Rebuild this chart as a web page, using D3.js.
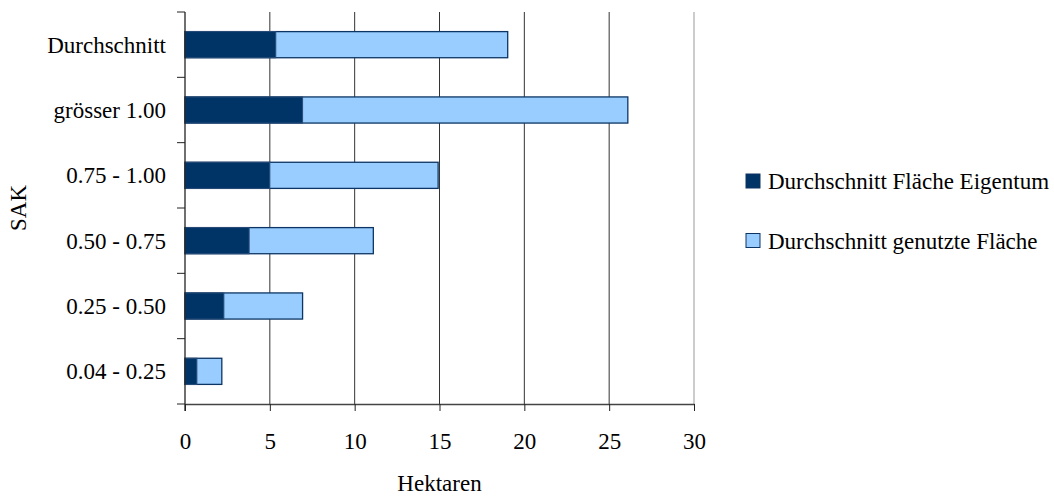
<!DOCTYPE html>
<html>
<head>
<meta charset="utf-8">
<script src="https://cdn.jsdelivr.net/npm/d3@7"></script>
<style>
  body { margin: 0; background: #fff; }
  svg text { font-family: "Liberation Serif", "Times New Roman", serif !important; fill: #000; }
</style>
</head>
<body>
<div id="chart"></div>
<script>
// Kategorien (von oben nach unten)
var categories = ["Durchschnitt", "grösser 1.00", "0.75 - 1.00", "0.50 - 0.75", "0.25 - 0.50", "0.04 - 0.25"];
var eigentum = [5.35, 6.93, 5.0, 3.78, 2.29, 0.7];
var genutzt = [19.02, 26.1, 14.92, 11.1, 6.93, 2.17];
var xTicks = [0, 5, 10, 15, 20, 25, 30];
var seriesNames = ["Durchschnitt Fläche Eigentum", "Durchschnitt genutzte Fläche"];
var colors = ["#003366", "#99ccff"];

function init() {
    var w = 1054, h = 498;
    var left = 185, right = 694, top = 12, bottom = 404;
    var fs = "23px";

    var svg = d3.select("#chart").append("svg")
        .attr("width", w)
        .attr("height", h);

    var x = d3.scaleLinear().domain([0, 30]).range([left, right]);
    var y = d3.scaleBand().domain(categories).range([top, bottom])
        .paddingInner(0.6).paddingOuter(0.3);

    // vertical gridlines
    svg.append("g").selectAll("line")
        .data(xTicks.slice(1))
        .enter().append("line")
        .attr("x1", function (d) { return x(d); })
        .attr("x2", function (d) { return x(d); })
        .attr("y1", top)
        .attr("y2", bottom)
        .attr("stroke", function (d) { return d === 30 ? "#999" : "#333"; })
        .attr("stroke-width", 1);

    var rows = categories.map(function (c, i) {
        return { cat: c, eig: eigentum[i], gen: genutzt[i] };
    });

    // light bars (total used area)
    svg.append("g").selectAll("rect")
        .data(rows)
        .enter().append("rect")
        .attr("x", x(0))
        .attr("y", function (d) { return y(d.cat); })
        .attr("width", function (d) { return x(d.gen) - x(0); })
        .attr("height", y.bandwidth())
        .attr("fill", colors[1])
        .attr("stroke", "#0d3563")
        .attr("stroke-width", 1.3);

    // dark bars (owned area)
    svg.append("g").selectAll("rect")
        .data(rows)
        .enter().append("rect")
        .attr("x", x(0))
        .attr("y", function (d) { return y(d.cat); })
        .attr("width", function (d) { return x(d.eig) - x(0); })
        .attr("height", y.bandwidth())
        .attr("fill", colors[0])
        .attr("stroke", "#2a4d78")
        .attr("stroke-width", 1);

    // x axis
    var xAxis = svg.append("g")
        .attr("transform", "translate(0," + bottom + ")")
        .call(d3.axisBottom(x).tickValues(xTicks).tickSize(7).tickPadding(22).tickSizeOuter(0));
    xAxis.attr("font-family", null).attr("font-size", null);
    xAxis.select(".domain").attr("stroke", "#444").attr("stroke-width", 1.5);
    xAxis.selectAll(".tick line").attr("stroke", "#222");
    xAxis.selectAll("text").style("font-size", fs);

    // y axis line + ticks between categories
    svg.append("line")
        .attr("x1", left).attr("x2", left)
        .attr("y1", top).attr("y2", bottom + 7)
        .attr("stroke", "#222").attr("stroke-width", 1.3);

    svg.append("g").selectAll("line")
        .data(d3.range(categories.length + 1))
        .enter().append("line")
        .attr("x1", left - 8).attr("x2", left)
        .attr("y1", function (k) { return top + k * y.step(); })
        .attr("y2", function (k) { return top + k * y.step(); })
        .attr("stroke", "#222");

    svg.append("g").selectAll("text")
        .data(categories)
        .enter().append("text")
        .attr("x", left - 19)
        .attr("y", function (d) { return y(d) + y.bandwidth() / 2; })
        .attr("dy", "0.35em")
        .attr("text-anchor", "end")
        .style("font-size", fs)
        .text(function (d) { return d; });

    // axis titles
    svg.append("text")
        .attr("x", (left + right) / 2)
        .attr("y", 491)
        .attr("text-anchor", "middle")
        .style("font-size", fs)
        .text("Hektaren");

    svg.append("text")
        .attr("transform", "translate(26," + ((top + bottom) / 2) + ") rotate(-90)")
        .attr("text-anchor", "middle")
        .style("font-size", fs)
        .text("SAK");

    // legend
    var legend = svg.append("g").selectAll("g")
        .data(seriesNames)
        .enter().append("g")
        .attr("transform", function (d, i) { return "translate(746," + (181 + i * 59.5) + ")"; });

    legend.append("rect")
        .attr("x", 0).attr("y", -7)
        .attr("width", 14).attr("height", 14)
        .attr("fill", function (d, i) { return colors[i]; })
        .attr("stroke", "#0d3563")
        .attr("stroke-width", 1);

    legend.append("text")
        .attr("x", 22)
        .attr("dy", "0.35em")
        .style("font-size", fs)
        .text(function (d) { return d; });
}
window.onload = init;
</script>
</body>
</html>
